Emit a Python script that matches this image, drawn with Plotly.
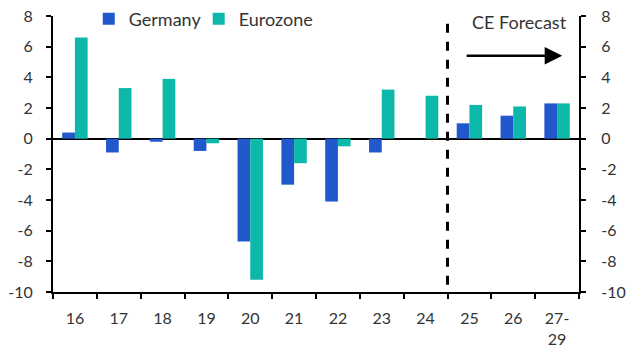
import plotly.graph_objects as go

categories = ["16", "17", "18", "19", "20", "21", "22", "23", "24", "25", "26", "27-<br>29"]
germany = [0.4, -0.9, -0.2, -0.8, -6.7, -3.0, -4.1, -0.9, 0.0, 1.0, 1.5, 2.3]
eurozone = [6.6, 3.3, 3.9, -0.3, -9.2, -1.6, -0.5, 3.2, 2.8, 2.2, 2.1, 2.3]
y_ticks = [8, 6, 4, 2, 0, -2, -4, -6, -8, -10]
y_labels = [str(v) for v in y_ticks]

FONT = "Lato"
TXT = "#333333"

fig = go.Figure()
fig.add_trace(go.Bar(x=categories, y=germany, name="Germany", marker_color="#2158CC", marker_line_width=0,
                     legend="legend"))
fig.add_trace(go.Bar(x=categories, y=eurozone, name="Eurozone", marker_color="#0DB8AA", marker_line_width=0,
                     legend="legend2"))
fig.add_trace(go.Scatter(x=categories, y=[None] * len(categories), yaxis="y2", showlegend=False, hoverinfo="skip"))

axis_common = dict(range=[-10, 8], tickvals=y_ticks, ticktext=y_labels, showline=True, linecolor="black",
                   linewidth=2, ticks="outside", ticklen=5, tickwidth=2, tickcolor="black", showgrid=False,
                   automargin=False, tickfont=dict(family=FONT, size=16, color=TXT))

legend_common = dict(orientation="h", y=1.056, xanchor="left", yanchor="top",
                     bgcolor="rgba(0,0,0,0)", font=dict(family=FONT, size=18, color=TXT))

fig.update_layout(
    width=634, height=364,
    margin=dict(l=53, r=55, t=16, b=72, autoexpand=False),
    plot_bgcolor="white", paper_bgcolor="white",
    barmode="group", bargap=0.42, bargroupgap=0,
    font=dict(family=FONT, size=16, color=TXT),
    xaxis=dict(range=[-0.5, 11.5], showline=True, linecolor="black", linewidth=2, ticks="outside", ticklen=5,
               tickwidth=2, tickcolor="black", tickson="boundaries", showgrid=False, automargin=False,
               ticklabelstandoff=11, tickfont=dict(family=FONT, size=16, color=TXT)),
    yaxis=dict(**axis_common, zeroline=True, zerolinecolor="black", zerolinewidth=2, ticklabelstandoff=10),
    yaxis2=dict(**axis_common, overlaying="y", side="right", zeroline=False, ticklabelstandoff=12),
    legend=dict(**legend_common, x=0.068),
    legend2=dict(**legend_common, x=0.277),
    showlegend=True,
)

fig.add_shape(type="line", xref="x", yref="y", x0=8.5, x1=8.5, y0=7.5, y1=-9.9,
              line=dict(color="black", width=3, dash="dash"))

fig.add_annotation(xref="paper", yref="y", x=0.886, y=7.6, text="CE Forecast", showarrow=False,
                   font=dict(family=FONT, size=18, color=TXT), xanchor="center", yanchor="middle")
fig.add_annotation(xref="paper", yref="y", x=0.968, y=5.4, ax=-97, ay=0, text="", showarrow=True,
                   arrowhead=2, arrowsize=1.4, arrowwidth=2.5, arrowcolor="black")

fig.write_html("out.html", config={"displayModeBar": False},
               post_script="document.body.style.margin='0';")
